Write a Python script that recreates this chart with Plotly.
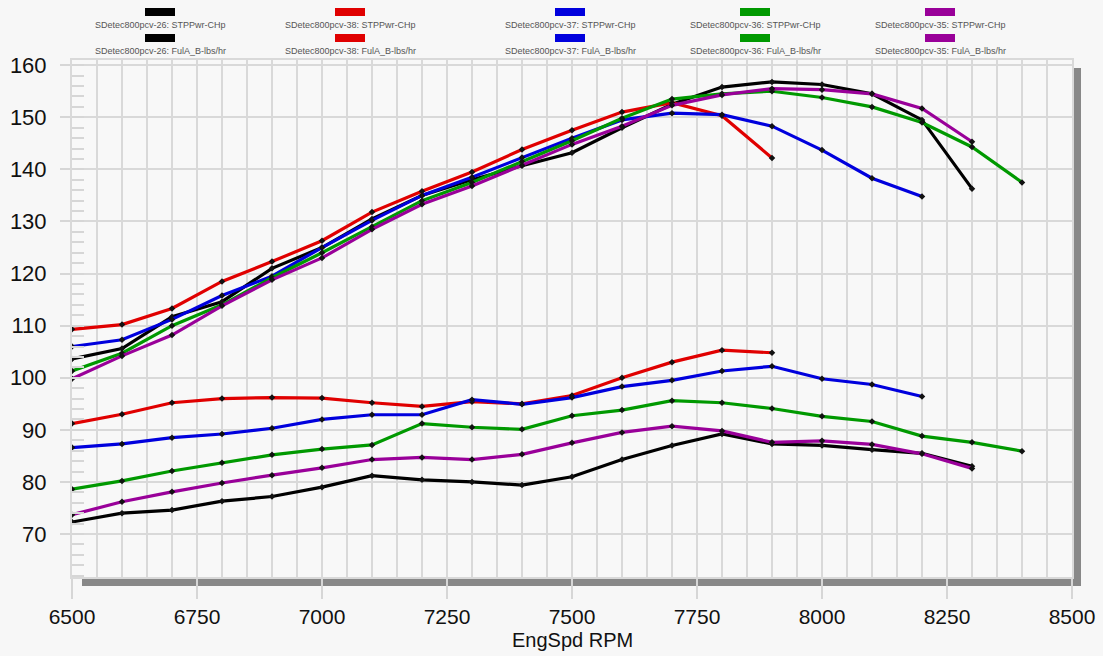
import plotly.graph_objects as go

rpm = [6500, 6600, 6700, 6800, 6900, 7000, 7100, 7200, 7300, 7400, 7500, 7600, 7700, 7800, 7900, 8000, 8100, 8200, 8300, 8400]

# STPPwr-CHp
pwr_26 = [103.6, 105.6, 111.7, 114.6, 121.0, 125.0, 130.5, 135.0, 138.0, 140.7, 143.2, 148.0, 152.5, 155.8, 156.8, 156.3, 154.5, 149.5, 136.3]
pwr_38 = [109.3, 110.2, 113.3, 118.5, 122.3, 126.3, 131.8, 135.8, 139.5, 143.8, 147.5, 151.0, 152.8, 150.3, 142.2]
pwr_37 = [106.0, 107.3, 111.2, 115.8, 119.5, 125.0, 130.2, 135.0, 138.5, 142.3, 146.0, 149.5, 150.8, 150.5, 148.3, 143.7, 138.3, 134.8]
pwr_36 = [101.3, 104.7, 110.0, 114.0, 119.2, 124.0, 129.0, 134.0, 137.5, 141.5, 145.5, 149.8, 153.5, 154.5, 155.0, 153.8, 152.0, 149.0, 144.3, 137.5]
pwr_35 = [99.8, 104.2, 108.2, 113.8, 118.8, 123.0, 128.5, 133.3, 136.8, 140.8, 144.8, 148.3, 152.3, 154.3, 155.5, 155.3, 154.5, 151.7, 145.3]

# FulA_B-lbs/hr
fuel_26 = [72.3, 74.0, 74.6, 76.3, 77.2, 79.0, 81.2, 80.4, 80.0, 79.4, 81.0, 84.3, 87.0, 89.2, 87.3, 87.0, 86.2, 85.5, 83.0]
fuel_38 = [91.2, 93.0, 95.2, 96.0, 96.2, 96.1, 95.2, 94.5, 95.4, 95.0, 96.6, 100.0, 103.0, 105.3, 104.8]
fuel_37 = [86.6, 87.3, 88.5, 89.2, 90.3, 92.0, 92.9, 92.9, 95.8, 94.9, 96.2, 98.3, 99.5, 101.3, 102.2, 99.8, 98.7, 96.4]
fuel_36 = [78.6, 80.2, 82.1, 83.7, 85.2, 86.3, 87.1, 91.2, 90.5, 90.1, 92.7, 93.8, 95.6, 95.2, 94.1, 92.6, 91.6, 88.8, 87.6, 85.9]
fuel_35 = [73.7, 76.2, 78.1, 79.8, 81.3, 82.7, 84.3, 84.7, 84.3, 85.3, 87.5, 89.5, 90.7, 89.8, 87.6, 87.9, 87.2, 85.4, 82.6]

run_names = ["SDetec800pcv-26", "SDetec800pcv-38", "SDetec800pcv-37", "SDetec800pcv-36", "SDetec800pcv-35"]
run_colors = ["#000000", "#e00000", "#0000dd", "#009900", "#990099"]
pwr_series = [pwr_26, pwr_38, pwr_37, pwr_36, pwr_35]
fuel_series = [fuel_26, fuel_38, fuel_37, fuel_36, fuel_35]
legend_cx = [160, 350, 570, 755, 940]

y_ticks = [70, 80, 90, 100, 110, 120, 130, 140, 150, 160]
x_ticks = [6500, 6750, 7000, 7250, 7500, 7750, 8000, 8250, 8500]

W, H = 1103, 656
L, R, T, B = 72, 1072, 60, 577


def px(xp):
    return (xp - L) / (R - L)


def py(yp):
    return (B - yp) / (B - T)


fig = go.Figure()
for name, col, pw, fu in zip(run_names, run_colors, pwr_series, fuel_series):
    for label, vals in ((name + ": STPPwr-CHp", pw), (name + ": FulA_B-lbs/hr", fu)):
        fig.add_trace(go.Scatter(
            x=rpm[:len(vals)], y=vals, mode="lines+markers", name=label,
            line=dict(color=col, width=3.2),
            marker=dict(color="#111111", size=5, symbol="diamond"),
            showlegend=False,
        ))

shapes = []
annotations = []
# drop shadow of plot area
shapes.append(dict(type="rect", xref="paper", yref="paper", x0=px(1073), x1=px(1081), y0=py(586), y1=py(68),
                   fillcolor="#888888", line=dict(width=0), layer="below"))
shapes.append(dict(type="rect", xref="paper", yref="paper", x0=px(82), x1=px(1081), y0=py(586), y1=py(577),
                   fillcolor="#888888", line=dict(width=0), layer="below"))

# custom legend
for name, col, cx in zip(run_names, run_colors, legend_cx):
    for sy, ty, suffix in ((12, 25, ": STPPwr-CHp"), (38, 51, ": FulA_B-lbs/hr")):
        shapes.append(dict(type="rect", xref="paper", yref="paper", x0=px(cx - 15), x1=px(cx + 15),
                           y0=py(sy + 4), y1=py(sy - 4), fillcolor=col, line=dict(width=0)))
        annotations.append(dict(xref="paper", yref="paper", x=px(cx), y=py(ty), text=name + suffix,
                                showarrow=False, xanchor="center", yanchor="middle",
                                font=dict(family="Arial, Liberation Sans", size=9, color="#555555")))

# axis title as annotation
annotations.append(dict(xref="paper", yref="paper", x=0.5, y=py(640), text="EngSpd RPM", showarrow=False,
                        xanchor="center", yanchor="middle",
                        font=dict(family="Arial, Liberation Sans", size=20, color="#111111")))

fig.update_layout(
    width=W, height=H,
    margin=dict(l=L, r=W - R, t=T, b=H - B, autoexpand=False),
    paper_bgcolor="#f7f7f7", plot_bgcolor="#f8f8f8",
    shapes=shapes, annotations=annotations,
    font=dict(family="Arial, Liberation Sans", color="#111111"),
)
fig.update_xaxes(
    range=[6500, 8500], tickvals=x_ticks, ticktext=[str(v) for v in x_ticks],
    ticks="outside", ticklen=20, tickcolor="#d6d6d6", tickwidth=2,
    showgrid=True, gridcolor="#d9d9d9", gridwidth=2,
    minor=dict(dtick=50, tick0=6500, showgrid=True, gridcolor="#d9d9d9", gridwidth=2, ticks=""),
    showline=True, linecolor="#d9d9d9", linewidth=2, mirror=True,
    tickfont=dict(size=21, color="#111111"), ticklabelstandoff=0,
    automargin=False, zeroline=False,
)
fig.update_yaxes(
    range=[61.75, 161], tickvals=y_ticks, ticktext=[str(v) for v in y_ticks],
    ticks="outside", ticklen=10, tickcolor="#d6d6d6", tickwidth=2,
    showgrid=True, gridcolor="#d9d9d9", gridwidth=2,
    minor=dict(dtick=2, tick0=60, ticks="inside", ticklen=12, tickcolor="#d6d6d6", tickwidth=2, showgrid=False),
    showline=True, linecolor="#d9d9d9", linewidth=2, mirror=True,
    tickfont=dict(size=22, color="#111111"), ticklabelstandoff=9,
    automargin=False, zeroline=False,
)

fig.write_html(
    "out.html",
    config={"displayModeBar": False},
    post_script="document.body.style.margin='0';document.body.style.background='#f7f7f7';",
)
